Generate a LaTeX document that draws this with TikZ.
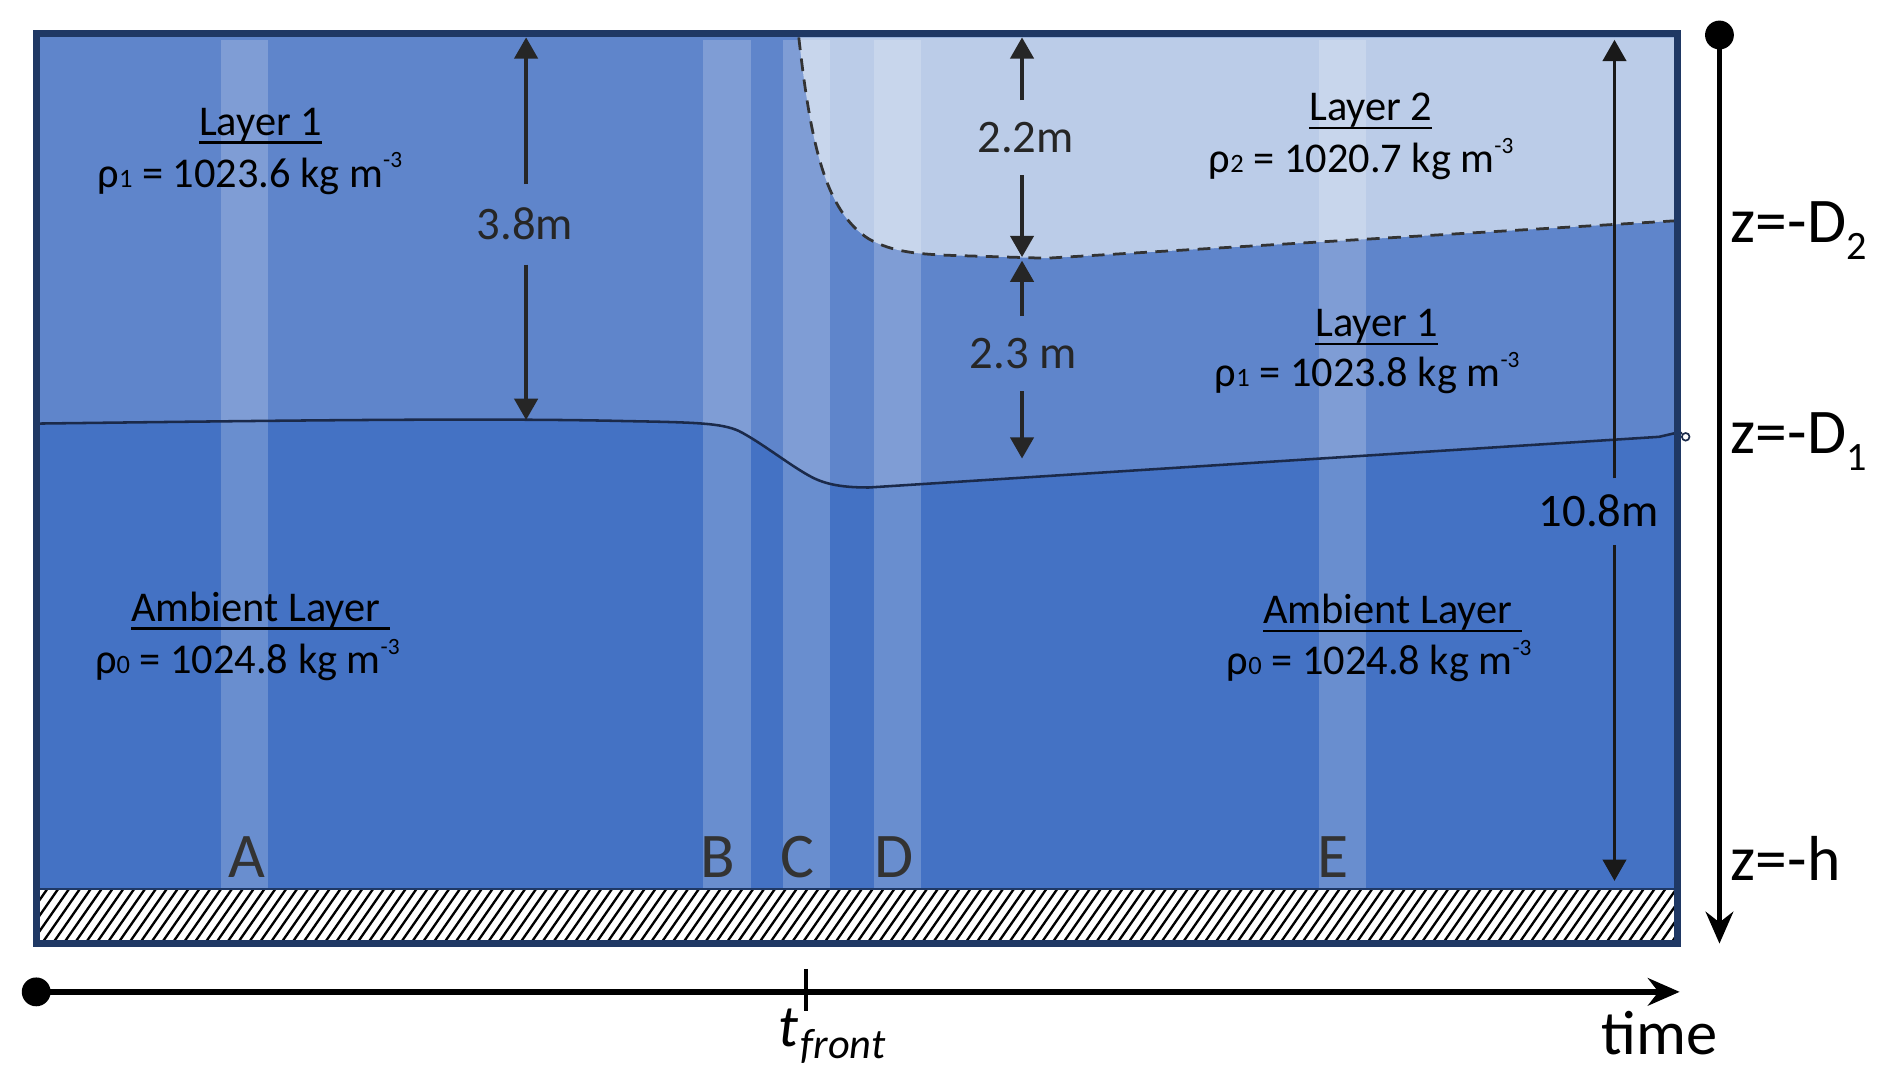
\documentclass[tikz,border=0pt]{standalone}
\usepackage{fontspec}
\setmainfont{Carlito}
\usetikzlibrary{arrows.meta}
\definecolor{ambient}{HTML}{4472C4}
\definecolor{layerone}{HTML}{5F85CB}
\definecolor{layertwo}{HTML}{BBCCE8}
\definecolor{navy}{HTML}{1F3864}
\definecolor{dimgray}{HTML}{262626}
\definecolor{ifline}{HTML}{1B2A4A}
\definecolor{lettergray}{HTML}{333333}
\newcommand{\myul}[1]{\setbox0\hbox{#1}\rlap{\rule[-4pt]{\wd0}{1.2pt}}\box0}
\newcommand{\rholine}[2]{ρ{\fontsize{12.5pt}{12.5pt}\selectfont #1} = #2 kg m\raisebox{0.45em}{\fontsize{11pt}{11pt}\selectfont -3}}
\newcommand{\zsub}[1]{\raisebox{-8pt}{\fontsize{19pt}{22pt}\selectfont #1}}
\tikzset{
  laytxt/.style={font=\fontsize{20pt}{24pt}\selectfont, anchor=base, inner sep=0pt, text=black},
  dimlab/.style={font=\fontsize{22pt}{26pt}\selectfont, text=dimgray, text height=14pt, text depth=0pt, inner xsep=0pt},
  dimarrow/.style={draw=dimgray, line width=1.6pt, -{Triangle[width=11pt,length=10pt]}},
  letter/.style={font=\fontsize{30pt}{34pt}\selectfont, text=lettergray, anchor=base, inner sep=0pt},
  zlab/.style={font=\fontsize{30pt}{34pt}\selectfont, anchor=base west, inner sep=0pt},
  axis/.style={line width=2.6pt, black, -{Stealth[length=15pt,width=13pt,inset=5pt]}},
  strip/.style={fill=white, fill opacity=0.2},
}
\begin{document}
\begin{tikzpicture}[x=0.02cm,y=-0.02cm]
\useasboundingbox (0,0) rectangle (1568,904);
\fill[white] (0,0) rectangle (1568,904);
% layers
\fill[layerone] (33,31) rectangle (1388,737);
\fill[ambient] (33,351) .. controls (200,349) and (400,346) .. (520,349)
  .. controls (580,350) and (598,351) .. (612,357)
  .. controls (630,366) and (655,386) .. (672,395)
  .. controls (685,402) and (700,404) .. (720,404)
  -- (1375,362) -- (1388,359) -- (1388,737) -- (33,737) -- cycle;
\fill[layertwo] (662,31) .. controls (672,120) and (684,175) .. (720,198)
  .. controls (740,209) and (760,211) .. (800,212) -- (867,214) -- (1388,183) -- (1388,31) -- cycle;
% strips
\foreach \a/\b in {183/222, 583/622, 649/688, 724/763, 1093/1132}
  \fill[strip] (\a,33) rectangle (\b,737);
% interface lines
\draw[ifline, line width=1.2pt] (33,351) .. controls (200,349) and (400,346) .. (520,349)
  .. controls (580,350) and (598,351) .. (612,357)
  .. controls (630,366) and (655,386) .. (672,395)
  .. controls (685,402) and (700,404) .. (720,404)
  -- (1375,362) -- (1388,359) -- (1394,359);
\draw[ifline, line width=0.8pt] (1397,362) circle (1.8pt);
\draw[black!80, line width=1.3pt, dash pattern=on 6pt off 4pt] (662,31) .. controls (672,120) and (684,175) .. (720,198)
  .. controls (740,209) and (760,211) .. (800,212) -- (867,214) -- (1388,183);
% hatch
\begin{scope}
\clip (33,737) rectangle (1388,780);
\fill[white] (33,737) rectangle (1388,780);
\foreach \x in {0,9,...,1400} \draw[black, line width=1.1pt] (\x,780) -- (\x+30,737);
\end{scope}
\draw[navy, line width=0.8pt] (33,737) -- (1388,737);
% frame
\draw[navy, line width=3.4pt] (30,28) rectangle (1390,782);
% layer texts
\node[laytxt] (lay1L) at (216,112) {\myul{Layer 1}};
\node[laytxt] (rho1L) at (207,155) {\rholine{1}{1023.6}};
\node[laytxt] (lay2) at (1136,100) {\myul{Layer 2}};
\node[laytxt] (rho2) at (1128,143) {\rholine{2}{1020.7}};
\node[laytxt] (lay1R) at (1141,279) {\myul{Layer 1}};
\node[laytxt] (rho1R) at (1133,320) {\rholine{1}{1023.8}};
\node[laytxt] (ambL) at (216,515) {\myul{Ambient Layer\ }};
\node[laytxt] (rho0L) at (205,558) {\rholine{0}{1024.8}};
\node[laytxt] (ambR) at (1154,517) {\myul{Ambient Layer\ }};
\node[laytxt] (rho0R) at (1143,559) {\rholine{0}{1024.8}};
% station letters
\node[letter] (labA) at (205,727) {A};
\node[letter] (labB) at (595,727) {B};
\node[letter] (labC) at (661,727) {C};
\node[letter] (labD) at (741,727) {D};
\node[letter] (labE) at (1105,727) {E};
% dimension arrows
\coordinate (d38t) at (436,31); \coordinate (d38b) at (436,348);
\node[dimlab, inner ysep=11.8pt] (dim38) at (435,186) {3.8m};
\draw[dimarrow] (dim38.north -| d38t) -- (d38t);
\draw[dimarrow] (dim38.south -| d38b) -- (d38b);
\coordinate (d22t) at (847,31); \coordinate (d22b) at (847,213);
\node[dimlab, inner ysep=10.5pt] (dim22) at (850,114) {2.2m};
\draw[dimarrow] (dim22.north -| d22t) -- (d22t);
\draw[dimarrow] (dim22.south -| d22b) -- (d22b);
\coordinate (d23t) at (847,216); \coordinate (d23b) at (847,380);
\node[dimlab, inner ysep=10.5pt] (dim23) at (848,293) {2.3 m};
\draw[dimarrow] (dim23.north -| d23t) -- (d23t);
\draw[dimarrow] (dim23.south -| d23b) -- (d23b);
\coordinate (d108t) at (1338,33); \coordinate (d108b) at (1338,730);
\node[dimlab, inner ysep=8.5pt, text=black] (dim108) at (1325,424) {10.8m};
\draw[dimarrow, draw=black!90, line width=1.4pt] (dim108.north -| d108t) -- (d108t);
\draw[dimarrow, draw=black!90, line width=1.4pt] (dim108.south -| d108b) -- (d108b);
% axes
\coordinate (ztop) at (1425,29); \coordinate (zbot) at (1425,782);
\fill[black] (ztop) circle (6.8pt);
\draw[axis] (ztop) -- (zbot);
\coordinate (tstart) at (30,822); \coordinate (tend) at (1392,822);
\fill[black] (tstart) circle (6.8pt);
\draw[axis] (tstart) -- (tend);
\coordinate (ticktop) at (668,803); \coordinate (tickbot) at (668,838);
\draw[black, line width=1.8pt] (ticktop) -- (tickbot);
\node[zlab] (zD2) at (1434,201) {z=-D\zsub{2}};
\node[zlab] (zD1) at (1434,376) {z=-D\zsub{1}};
\node[zlab] (zh) at (1434,730) {z=-h};
\node[font=\fontsize{29.5pt}{34pt}\selectfont, anchor=base west, inner sep=0pt] (timelab) at (1327,874) {time};
\node[font=\fontsize{28pt}{32pt}\selectfont\itshape, anchor=base west, inner sep=0pt] (tfront) at (645,867) {t\kern1pt\raisebox{-6pt}{\fontsize{20pt}{22pt}\selectfont front}};
\end{tikzpicture}
\end{document}
